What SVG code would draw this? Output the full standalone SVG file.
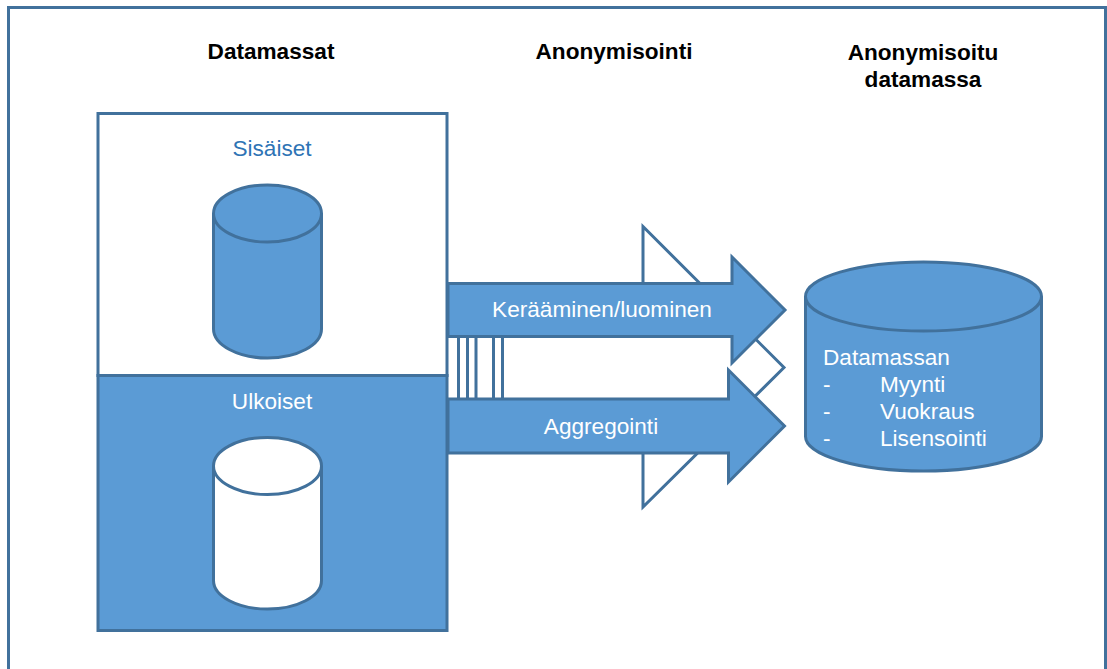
<svg xmlns="http://www.w3.org/2000/svg" width="1107" height="669" viewBox="0 0 1107 669">
<style>
.s{stroke:#41719c;stroke-width:3}
.b{fill:#5b9bd5}
.w{fill:#fff}
text{font-family:"Liberation Sans",Arial,sans-serif;font-size:22.600px}
.h{font-weight:bold;fill:#000;text-anchor:middle}
.l{fill:#fff;text-anchor:middle}
.t{fill:#fff}
</style>
<rect width="1107" height="669" fill="#fff"/>
<path id="frame" d="M8.5 669V7.5H1105.5V669" fill="none" stroke="#41719c" stroke-width="3"/>
<g id="headings">
<text class="h" x="271" y="59">Datamassat</text>
<text class="h" x="614" y="59">Anonymisointi</text>
<text class="h" x="923" y="60">Anonymisoitu</text>
<text class="h" x="923" y="87">datamassa</text>
</g>
<g id="sisaiset">
<rect class="s w" x="98" y="113.500" width="349" height="262"/>
<text x="272" y="156" text-anchor="middle" fill="#2e74b5">Sisäiset</text>
<path class="s b" d="M213.500 213.500V329C213.500 345 238 358 267.500 358S321.500 345 321.500 329V213.500"/>
<ellipse class="s b" cx="267.500" cy="213.500" rx="54" ry="28.500"/>
</g>
<g id="ulkoiset">
<rect class="s b" x="98" y="375.500" width="349" height="255"/>
<text class="l" x="272" y="409">Ulkoiset</text>
<path class="s w" d="M213.500 466V580.500C213.500 596.500 238 609 267.500 609S321.500 596.500 321.500 580.500V466"/>
<ellipse class="s w" cx="267.500" cy="466" rx="54" ry="28.500"/>
</g>
<g id="connectors">
<path id="triangle" class="s w" d="M643 226.500L784 367.500L643 507Z"/>
<rect x="449" y="337" width="279" height="61" fill="#fff"/>
<path id="stripes" class="s" fill="none" d="M458.500 337V398M467.500 337V398M476 337V398M493.500 337V398M502.500 337V398"/>
</g>
<g id="arrow-keraaminen">
<path class="s b" d="M448 283.500H732V257L785 310L732 363V336.500H448Z"/>
<text class="l" x="602" y="317">Kerääminen/luominen</text>
</g>
<g id="arrow-aggregointi">
<path class="s b" d="M448 399H728.500V370L784.500 426L728.500 482V453H448Z"/>
<text class="l" x="601" y="434">Aggregointi</text>
</g>
<g id="datamassa">
<path class="s b" d="M805.500 296.500V436.500C805.500 455 858 471 923.500 471S1041.500 455 1041.500 436.500V296.500"/>
<ellipse class="s b" cx="923.500" cy="296.500" rx="118" ry="34.500"/>
<text class="t" x="823" y="365">Datamassan</text>
<text class="t" x="823" y="392">-</text><text class="t" x="880" y="392">Myynti</text>
<text class="t" x="823" y="419">-</text><text class="t" x="880" y="419">Vuokraus</text>
<text class="t" x="823" y="446">-</text><text class="t" x="880" y="446">Lisensointi</text>
</g>
</svg>
